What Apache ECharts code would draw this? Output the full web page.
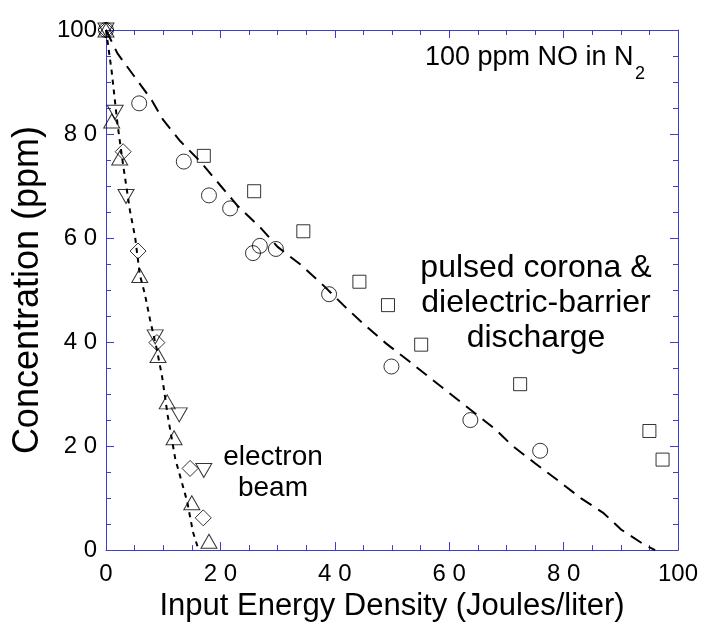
<!DOCTYPE html>
<html>
<head>
<meta charset="utf-8">
<script src="https://cdn.jsdelivr.net/npm/echarts@6/dist/echarts.min.js"></script>
<style>
  html, body { margin: 0; padding: 0; background: #fff; }
  #chart { width: 704px; height: 627px; }
</style>
</head>
<body>
<div id="chart"></div>
<script>
// pulsed corona / DBD points (circles and squares)
var circleX = [0, 5.8, 13.6, 18.0, 21.7, 25.7, 26.9, 29.7, 39.0, 49.9, 63.7, 75.9];
var circleY = [100, 85.9, 74.7, 68.2, 65.7, 57.1, 58.5, 57.9, 49.2, 35.3, 25.0, 19.1];
var squareX = [17.1, 25.9, 34.5, 44.3, 49.3, 55.1, 72.4, 95.0, 97.3];
var squareY = [75.8, 69.0, 61.3, 51.6, 47.1, 39.5, 31.9, 22.9, 17.4];

// electron beam points
var triUpX = [0, 1.0, 2.4, 5.9, 9.1, 10.7, 11.9, 15.0, 18.0];
var triUpY = [100, 82.5, 75.4, 52.8, 37.4, 28.5, 21.6, 9.1, 1.7];
var triDownX = [0, 1.6, 3.5, 8.6, 12.8, 17.1];
var triDownY = [100, 84.2, 68.0, 41.0, 26.0, 15.3];
var diamondX = [0, 3.0, 5.6, 8.9, 14.7, 17.0];
var diamondY = [100, 76.6, 57.5, 39.9, 15.7, 6.2];

// fitted curves
var coronaFitX = [0, 2, 5, 8, 10, 13, 16.5, 20, 23, 27, 30, 34, 38, 41.5, 45, 49, 53, 57, 60, 68, 71, 75, 79, 83, 87, 90, 94, 96];
var coronaFitY = [100, 95.5, 91, 86.5, 82.7, 78.6, 74.7, 70.1, 66.2, 62, 58.3, 54.9, 50.9, 47.1, 43.5, 39.7, 36.3, 32.8, 30.2, 23.3, 20.1, 16.7, 13.4, 10, 7.1, 4, 1.1, 0];
var beamFitX = [0, 1, 2, 3, 4.2, 5.1, 5.9, 6.8, 7.7, 8.9, 9.8, 10.8, 12.1, 14.2, 15.2, 16.2];
var beamFitY = [100, 92, 82, 74, 65.2, 60.1, 53, 49.2, 44.3, 38.5, 33.4, 25.8, 17.6, 9.3, 3.5, 0];

var xTicks = [0, 20, 40, 60, 80, 100];
var yTicks = [0, 20, 40, 60, 80, 100];

function pairs(xs, ys) {
  var out = [];
  for (var i = 0; i < xs.length; i++) out.push([xs[i], ys[i]]);
  return out;
}
function tickText(v) {
  return v === 100 ? '100' : String(v).split('').join(' ');
}

var font = 'Liberation Sans, Arial, sans-serif';
var axisBlue = '#3d3dd6';

function makeAxis(pos, show, list, margin) {
  return {
    type: 'value', position: pos, min: 0, max: 100, interval: 20,
    axisLine: { show: true, onZero: false, lineStyle: { color: axisBlue, width: 1 } },
    axisTick: { show: true, inside: true, length: 8, lineStyle: { color: axisBlue } },
    minorTick: { show: true, splitNumber: 4, length: 5, lineStyle: { color: axisBlue } },
    splitLine: { show: false },
    axisLabel: {
      show: show, color: '#000', fontFamily: font, fontSize: 24, margin: margin,
      formatter: function (v) { return list.indexOf(v) >= 0 ? tickText(v) : ''; }
    }
  };
}

var hollow = { color: 'rgba(0,0,0,0)', borderColor: '#000', borderWidth: 1 };

var chart = echarts.init(document.getElementById('chart'));
var xMain = makeAxis('bottom', true, xTicks, 12);
xMain.name = 'Input Energy Density (Joules/liter)';
xMain.nameLocation = 'middle';
xMain.nameGap = 33;
xMain.nameTextStyle = { color: '#000', fontFamily: font, fontSize: 31 };
var yMain = makeAxis('left', true, yTicks, 9);
yMain.name = 'Concentration (ppm)';
yMain.nameLocation = 'middle';
yMain.nameGap = 57;
yMain.nameTextStyle = { color: '#000', fontFamily: font, fontSize: 36 };

chart.setOption({
  backgroundColor: '#fff',
  animation: false,
  grid: { left: 106, right: 26, top: 30, bottom: 71 },
  xAxis: [xMain, makeAxis('top', false, xTicks, 8)],
  yAxis: [yMain, makeAxis('right', false, yTicks, 8)],
  series: [
    {
      type: 'line', data: pairs(coronaFitX, coronaFitY), showSymbol: false, symbol: 'none',
      lineStyle: { color: '#000', width: 2, type: [13, 8] }, z: 1
    },
    {
      type: 'line', data: pairs(beamFitX, beamFitY), showSymbol: false, symbol: 'none',
      lineStyle: { color: '#000', width: 2, type: [5, 5] }, z: 1
    },
    { type: 'scatter', data: pairs(circleX, circleY), symbol: 'circle', symbolSize: 15, itemStyle: hollow },
    { type: 'scatter', data: pairs(squareX, squareY), symbol: 'rect', symbolSize: 13, itemStyle: hollow },
    { type: 'scatter', data: pairs(triUpX, triUpY), symbol: 'triangle', symbolSize: [16, 14], itemStyle: hollow },
    { type: 'scatter', data: pairs(triDownX, triDownY), symbol: 'triangle', symbolRotate: 180, symbolSize: [16, 14], itemStyle: hollow },
    { type: 'scatter', data: pairs(diamondX, diamondY), symbol: 'diamond', symbolSize: [16, 16], itemStyle: hollow }
  ],
  graphic: [
    { type: 'text', x: 425, y: 44, style: { text: '100 ppm NO in N', font: '27px ' + font, fill: '#000', align: 'left', verticalAlign: 'top' } },
    { type: 'text', x: 635, y: 65, style: { text: '2', font: '18px ' + font, fill: '#000', align: 'left', verticalAlign: 'top' } },
    { type: 'text', x: 536, y: 251, style: { text: 'pulsed corona &\ndielectric-barrier\ndischarge', font: '32px ' + font, fill: '#000', align: 'center', verticalAlign: 'top', lineHeight: 35 } },
    { type: 'text', x: 273, y: 442, style: { text: 'electron\nbeam', font: '28px ' + font, fill: '#000', align: 'center', verticalAlign: 'top', lineHeight: 31 } }
  ]
});
</script>
</body>
</html>
